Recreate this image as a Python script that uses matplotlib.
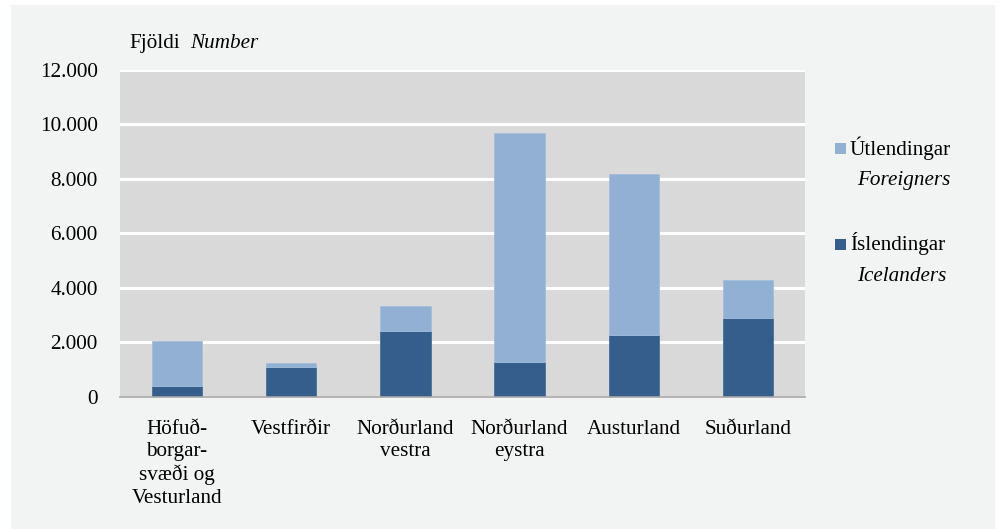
import matplotlib.pyplot as plt
from matplotlib.patches import Rectangle
import numpy as np

plt.rcParams['font.family'] = ['Liberation Serif', 'DejaVu Serif']

categories = ['Höfuð-\nborgar-\nsvæði og\nVesturland', 'Vestfirðir', 'Norðurland\nvestra',
              'Norðurland\neystra', 'Austurland', 'Suðurland']
icelanders = [400, 1110, 2400, 1270, 2260, 2900]
totals = [2050, 1230, 3340, 9680, 8170, 4270]
foreigners = [t - i for t, i in zip(totals, icelanders)]
yticks = [0, 2000, 4000, 6000, 8000, 10000, 12000]

dark = '#355E8C'
light = '#92B0D4'
panel = '#F2F4F3'
fs = 15.2

fig = plt.figure(figsize=(10, 5.29), dpi=100)
fig.patch.set_facecolor('white')
fig.patches.append(Rectangle((0.011, 0.0), 0.984, 0.9905, transform=fig.transFigure,
                             facecolor=panel, edgecolor='none', zorder=-10))

ax = fig.add_axes([0.120, 0.250, 0.685, 0.618])
ax.set_facecolor('#D9D9D9')
x = np.arange(len(categories))
w = 0.44
ax.bar(x, icelanders, w, color=dark, edgecolor='#4A6F99', linewidth=0.6, zorder=3)
ax.bar(x, foreigners, w, bottom=icelanders, color=light, edgecolor='#A5BDDB', linewidth=0.6, zorder=3)

ax.set_ylim(0, 12000)
ax.set_xlim(-0.5, len(categories) - 0.5)
ax.set_yticks(yticks)
ax.set_yticklabels([f'{v:,}'.replace(',', '.') for v in yticks], fontsize=fs)
ax.set_xticks(x)
ax.set_xticklabels(categories, fontsize=fs, linespacing=1.22)
ax.tick_params(axis='both', length=0)
ax.tick_params(axis='y', pad=16)
ax.tick_params(axis='x', pad=17)
ax.grid(axis='y', color='white', linewidth=2.2, zorder=1)
for s in ['top', 'right', 'left']:
    ax.spines[s].set_visible(False)
ax.spines['bottom'].set_color('#A6A6A6')
ax.spines['bottom'].set_linewidth(1.2)
ax.spines['bottom'].set_zorder(4)

fig.text(0.129, 0.918, 'Fjöldi', fontsize=fs, va='center')
fig.text(0.190, 0.918, 'Number', fontsize=fs, style='italic', va='center')

# legend
for yy, name, eng, col in [(0.720, 'Útlendingar', 'Foreigners', light),
                           (0.539, 'Íslendingar', 'Icelanders', dark)]:
    fig.patches.append(Rectangle((0.835, yy - 0.011), 0.0105, 0.021, transform=fig.transFigure,
                                 facecolor=col, edgecolor='none'))
    fig.text(0.850, yy, name, fontsize=fs, va='center')
    fig.text(0.857, yy - 0.061, eng, fontsize=fs, style='italic', va='center')

fig.savefig('out.png', dpi=100, facecolor=fig.get_facecolor())
